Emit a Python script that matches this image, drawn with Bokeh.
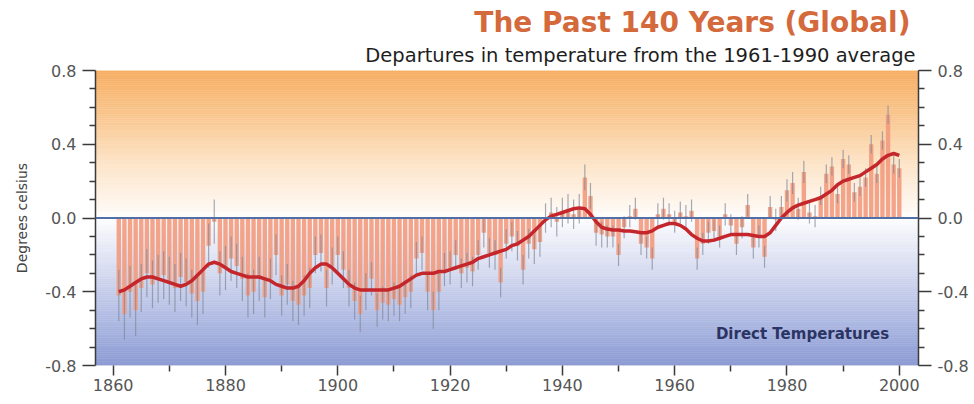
import numpy as np
from bokeh.plotting import figure
from bokeh.models import Range1d, LinearAxis, FixedTicker, PrintfTickFormatter, Span, Label, Title
from bokeh.embed import file_html
from bokeh.resources import INLINE

# ---------------- data ----------------
years = list(range(1861, 2001))

anomaly = [
    -0.42, -0.52, -0.40, -0.50, -0.38, -0.30, -0.36, -0.33, -0.31, -0.34,   # 1861-1870
    -0.38, -0.32, -0.35, -0.41, -0.45, -0.40, -0.15, -0.02, -0.30, -0.27,   # 1871-1880
    -0.22, -0.26, -0.33, -0.42, -0.40, -0.33, -0.43, -0.33, -0.20, -0.42,   # 1881-1890
    -0.36, -0.45, -0.47, -0.42, -0.38, -0.20, -0.19, -0.38, -0.26, -0.20,   # 1891-1900
    -0.28, -0.38, -0.45, -0.52, -0.40, -0.33, -0.50, -0.46, -0.47, -0.44,   # 1901-1910
    -0.47, -0.43, -0.40, -0.22, -0.19, -0.40, -0.50, -0.40, -0.28, -0.27,   # 1911-1920
    -0.20, -0.30, -0.27, -0.29, -0.20, -0.08, -0.19, -0.20, -0.35, -0.14,   # 1921-1930
    -0.10, -0.15, -0.28, -0.14, -0.17, -0.13, 0.00, 0.03, -0.02, 0.03,      # 1931-1940
    0.05, 0.02, 0.05, 0.22, 0.12, -0.08, -0.09, -0.10, -0.10, -0.20,        # 1941-1950
    -0.05, 0.01, 0.05, -0.14, -0.16, -0.22, 0.02, 0.05, 0.02, -0.02,        # 1951-1960
    0.03, 0.01, 0.04, -0.22, -0.14, -0.08, -0.07, -0.10, 0.02, -0.04,       # 1961-1970
    -0.14, -0.05, 0.07, -0.16, -0.10, -0.21, 0.06, -0.01, 0.06, 0.15,       # 1971-1980
    0.19, 0.05, 0.25, 0.03, 0.01, 0.12, 0.24, 0.28, 0.13, 0.32,             # 1981-1990
    0.29, 0.14, 0.17, 0.22, 0.40, 0.24, 0.42, 0.56, 0.29, 0.27,             # 1991-2000
]

uncertainty = [
    0.14, 0.14, 0.14, 0.14, 0.13, 0.13, 0.13, 0.13, 0.13, 0.13,
    0.13, 0.13, 0.13, 0.13, 0.13, 0.12, 0.12, 0.12, 0.12, 0.12,
    0.12, 0.12, 0.12, 0.12, 0.12, 0.12, 0.11, 0.11, 0.11, 0.11,
    0.11, 0.11, 0.11, 0.11, 0.11, 0.10, 0.10, 0.10, 0.10, 0.10,
    0.10, 0.10, 0.10, 0.10, 0.10, 0.09, 0.09, 0.09, 0.09, 0.09,
    0.09, 0.09, 0.09, 0.09, 0.09, 0.10, 0.10, 0.10, 0.09, 0.09,
    0.08, 0.08, 0.08, 0.08, 0.08, 0.08, 0.08, 0.08, 0.08, 0.08,
    0.08, 0.08, 0.08, 0.08, 0.08, 0.08, 0.08, 0.08, 0.08, 0.08,
    0.08, 0.08, 0.08, 0.07, 0.07, 0.07, 0.07, 0.06, 0.06, 0.06,
    0.06, 0.06, 0.06, 0.06, 0.06, 0.06, 0.06, 0.06, 0.06, 0.06,
    0.06, 0.06, 0.06, 0.06, 0.06, 0.06, 0.06, 0.06, 0.06, 0.06,
    0.06, 0.06, 0.06, 0.06, 0.06, 0.06, 0.06, 0.06, 0.06, 0.06,
    0.06, 0.06, 0.06, 0.06, 0.06, 0.05, 0.05, 0.05, 0.05, 0.05,
    0.05, 0.05, 0.05, 0.05, 0.05, 0.05, 0.05, 0.05, 0.05, 0.05,
]

smooth = [
    -0.40, -0.39, -0.37, -0.35, -0.33, -0.32, -0.32, -0.33, -0.34, -0.35,
    -0.36, -0.37, -0.36, -0.34, -0.31, -0.28, -0.25, -0.24, -0.25, -0.27,
    -0.29, -0.30, -0.31, -0.32, -0.32, -0.32, -0.33, -0.34, -0.36, -0.37,
    -0.38, -0.38, -0.37, -0.34, -0.30, -0.27, -0.25, -0.25, -0.27, -0.30,
    -0.33, -0.36, -0.38, -0.39, -0.39, -0.39, -0.39, -0.39, -0.39, -0.38,
    -0.37, -0.35, -0.33, -0.31, -0.30, -0.30, -0.30, -0.29, -0.29, -0.28,
    -0.27, -0.26, -0.25, -0.24, -0.22, -0.21, -0.20, -0.19, -0.18, -0.17,
    -0.15, -0.14, -0.12, -0.10, -0.07, -0.04, -0.01, 0.01, 0.02, 0.03,
    0.04, 0.05, 0.055, 0.05, 0.02, -0.02, -0.05, -0.06, -0.065, -0.065,
    -0.07, -0.07, -0.075, -0.08, -0.08, -0.07, -0.05, -0.04, -0.03, -0.03,
    -0.04, -0.06, -0.09, -0.11, -0.125, -0.125, -0.12, -0.11, -0.10, -0.09,
    -0.09, -0.09, -0.09, -0.095, -0.10, -0.10, -0.08, -0.04, 0.00, 0.03,
    0.055, 0.07, 0.08, 0.09, 0.10, 0.11, 0.13, 0.15, 0.18, 0.20,
    0.21, 0.22, 0.23, 0.25, 0.27, 0.29, 0.32, 0.34, 0.35, 0.34,
]

y_major = [-0.8, -0.4, 0.0, 0.4, 0.8]
y_minor = [-0.7, -0.6, -0.5, -0.3, -0.2, -0.1, 0.1, 0.2, 0.3, 0.5, 0.6, 0.7]
x_major = [1860, 1880, 1900, 1920, 1940, 1960, 1980, 2000]
x_minor = [1870, 1890, 1910, 1930, 1950, 1970, 1990]

title_text = "The Past 140 Years (Global)"
subtitle_text = "Departures in temperature from the 1961-1990 average"
y_label = "Degrees celsius"
note_text = "Direct Temperatures"

# ---------------- figure ----------------
X0, X1 = 1856.85, 2003.42
Y0, Y1 = -0.8, 0.8
font = "DejaVu Sans"

p = figure(width=972, height=402, output_backend="svg", toolbar_location=None, title=None,
           x_range=Range1d(X0, X1), y_range=Range1d(Y0, Y1),
           min_border_left=95, min_border_right=54, min_border_top=70, min_border_bottom=37)
p.outline_line_color = None
p.xgrid.visible = False
p.ygrid.visible = False
p.background_fill_color = "white"
p.border_fill_color = "white"

# background gradient (orange above, blue-lilac below)
stops_y = [-0.8, -0.55, -0.3, -0.05, 0.0, 0.05, 0.3, 0.55, 0.8]
stops_c = [(138, 154, 211), (176, 187, 227), (213, 218, 240), (246, 247, 252), (255, 255, 255),
           (255, 249, 243), (253, 228, 200), (250, 200, 145), (247, 175, 100)]
edges = np.linspace(Y0, Y1, 161)
mids = 0.5 * (edges[:-1] + edges[1:])
sc = np.array(stops_c, dtype=float)
cols = []
for m in mids:
    r = np.interp(m, stops_y, sc[:, 0]); g = np.interp(m, stops_y, sc[:, 1]); b = np.interp(m, stops_y, sc[:, 2])
    cols.append("#%02x%02x%02x" % (int(r), int(g), int(b)))
p.quad(left=X0, right=X1, bottom=edges[:-1], top=edges[1:], fill_color=cols, line_color=cols, line_width=0.5)

# bars
p.vbar(x=years, bottom=0, top=anomaly, width=0.78, fill_color="#f29c80", fill_alpha=0.92, line_color=None)

# uncertainty whiskers
lo = [v - e for v, e in zip(anomaly, uncertainty)]
hi = [v + e for v, e in zip(anomaly, uncertainty)]
p.segment(x0=years, y0=lo, x1=years, y1=hi, line_color="#808899", line_width=1.2, line_alpha=0.7)

# zero line
p.add_layout(Span(location=0, dimension="width", line_color="#4f6fa6", line_width=2))

# smoothed curve
p.line(years, smooth, line_color="#c4262b", line_width=3.5)

# axes
p.xaxis.ticker = FixedTicker(ticks=x_major, minor_ticks=x_minor)
p.yaxis.ticker = FixedTicker(ticks=y_major, minor_ticks=y_minor)
p.yaxis.formatter = PrintfTickFormatter(format="%.1f")
right = LinearAxis(ticker=FixedTicker(ticks=y_major, minor_ticks=y_minor),
                   formatter=PrintfTickFormatter(format="%.1f"))
p.add_layout(right, "right")

for ax in p.yaxis:
    ax.axis_line_color = "#3a3a3a"
    ax.axis_line_width = 1.5
    ax.major_tick_line_color = "#3a3a3a"
    ax.minor_tick_line_color = "#3a3a3a"
    ax.major_tick_line_width = 1.5
    ax.minor_tick_line_width = 1.5
    ax.major_tick_in = 0
    ax.minor_tick_in = 0
    ax.major_tick_out = 13
    ax.minor_tick_out = 6
    ax.major_label_text_font = font
    ax.major_label_text_font_size = "16px"
    ax.major_label_text_color = "#555555"
    ax.major_label_standoff = 6

p.yaxis[0].axis_label = y_label
p.yaxis[0].axis_label_text_font = font
p.yaxis[0].axis_label_text_font_size = "14px"
p.yaxis[0].axis_label_text_font_style = "normal"
p.yaxis[0].axis_label_text_color = "#444444"
p.yaxis[0].axis_label_standoff = 12

xa = p.xaxis[0]
xa.axis_line_color = None
xa.major_tick_line_color = "#3a3a3a"
xa.minor_tick_line_color = "#3a3a3a"
xa.major_tick_line_width = 1.5
xa.minor_tick_line_width = 1.5
xa.major_tick_in = 0
xa.minor_tick_in = 0
xa.major_tick_out = 10
xa.minor_tick_out = 6
xa.major_label_text_font = font
xa.major_label_text_font_size = "16px"
xa.major_label_text_color = "#555555"
xa.major_label_standoff = 3

# titles (subtitle added first so it sits closest to the plot)
p.add_layout(Title(text=subtitle_text, align="right", offset=3, standoff=7,
                   text_font=font, text_font_size="19.5px", text_font_style="normal",
                   text_color="#1e1e1e"), "above")
p.add_layout(Title(text=title_text, align="right", offset=8, standoff=0,
                   text_font=font, text_font_size="28px", text_font_style="bold",
                   text_color="#d4693b"), "above")

p.add_layout(Label(x=1998.2, y=-0.628, text=note_text, text_align="right", text_baseline="middle",
                   text_font=font, text_font_style="bold", text_font_size="15px", text_color="#2b3463"))

open("out.html", "w").write(file_html(p, INLINE))
